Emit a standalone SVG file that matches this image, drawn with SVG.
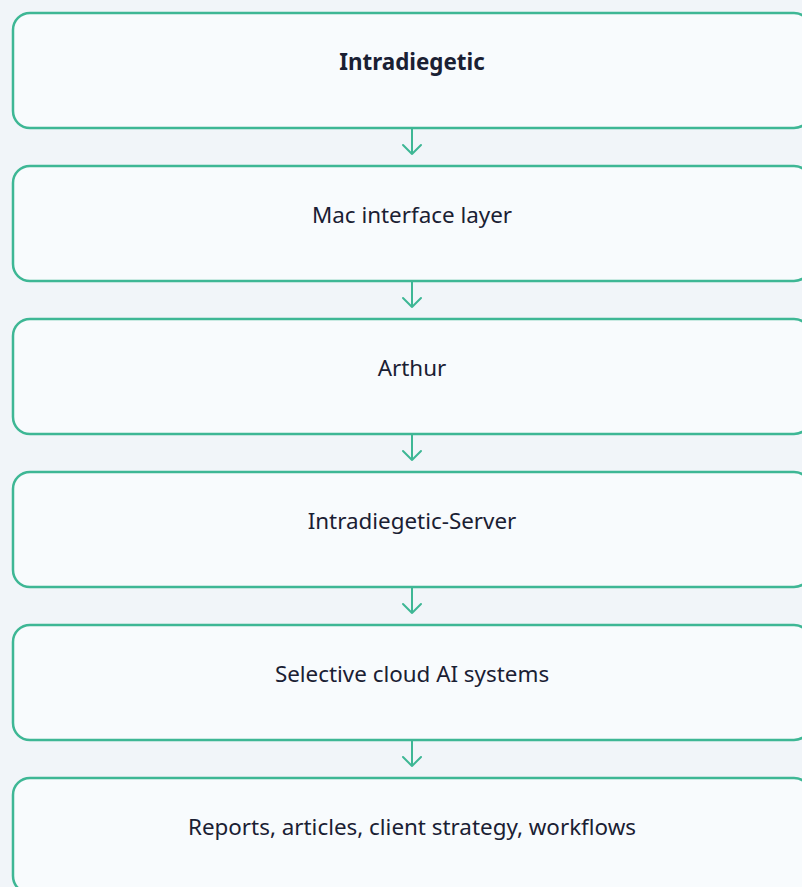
<svg xmlns="http://www.w3.org/2000/svg" width="802" height="887" viewBox="0 0 802 887">
<defs>
<style>
.box{fill:#F8FBFD;stroke:#3EB795;stroke-width:2.5}
.t{font-family:"Noto Sans","Open Sans",sans-serif;font-size:22.4px;fill:#1A2033;text-anchor:middle}
.b{font-weight:bold}
.c{fill:none;stroke:#3EB795;stroke-width:2;stroke-linecap:round;stroke-linejoin:round}
</style>
</defs>
<rect width="802" height="887" fill="#F1F5F9"/>
<g id="n1"><rect class="box" x="13" y="13" width="798" height="115" rx="17"/><text class="t b" x="412" y="70">Intradiegetic</text></g>
<g id="n2"><rect class="box" x="13" y="166" width="798" height="115" rx="17"/><text class="t" x="412" y="223">Mac interface layer</text></g>
<g id="n3"><rect class="box" x="13" y="319" width="798" height="115" rx="17"/><text class="t" x="412" y="376">Arthur</text></g>
<g id="n4"><rect class="box" x="13" y="472" width="798" height="115" rx="17"/><text class="t" x="412" y="529">Intradiegetic-Server</text></g>
<g id="n5"><rect class="box" x="13" y="625" width="798" height="115" rx="17"/><text class="t" x="412" y="682">Selective cloud AI systems</text></g>
<g id="n6"><rect class="box" x="13" y="778" width="798" height="115" rx="17"/><text class="t" x="412" y="835">Reports, articles, client strategy, workflows</text></g>
<g id="connectors">
<path class="c" d="M412 129V154M403 145L412 154L421 145"/>
<path class="c" d="M412 282V307M403 298L412 307L421 298"/>
<path class="c" d="M412 435V460M403 451L412 460L421 451"/>
<path class="c" d="M412 588V613M403 604L412 613L421 604"/>
<path class="c" d="M412 741V766M403 757L412 766L421 757"/>
</g>
</svg>
